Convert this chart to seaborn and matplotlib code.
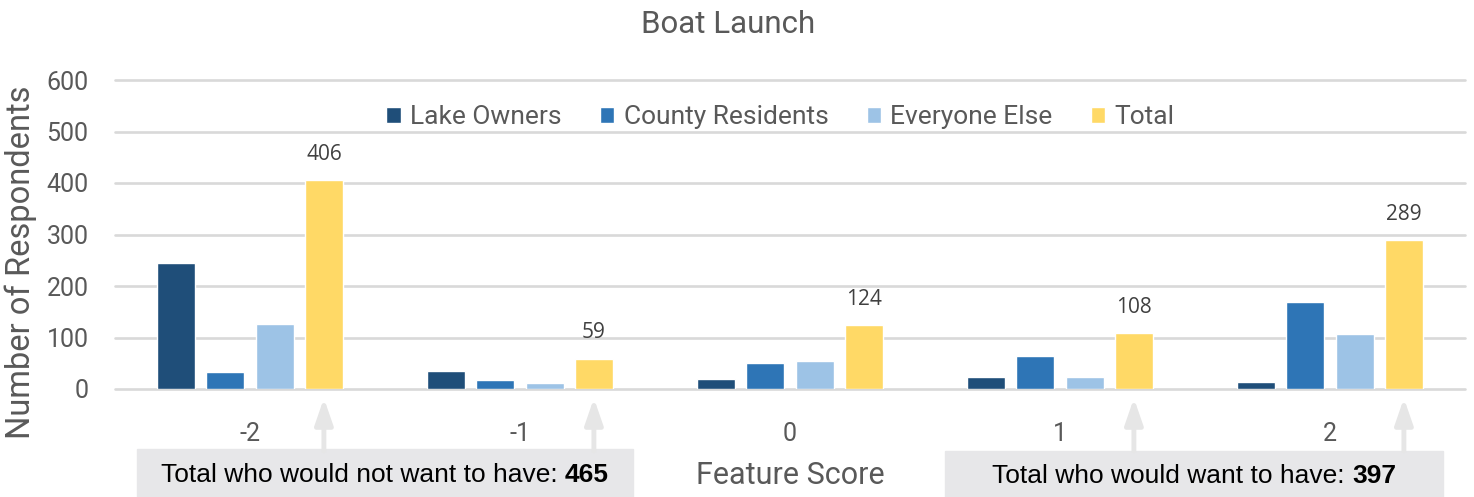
import matplotlib
matplotlib.use("Agg")
import matplotlib.pyplot as plt
from matplotlib.patches import Rectangle
import pandas as pd
import seaborn as sns

# values
scores = ["-2", "-1", "0", "1", "2"]
lake_owners = [245, 34, 19, 24, 13]
county_residents = [33, 18, 50, 65, 168]
everyone_else = [127, 12, 54, 23, 106]
total = [406, 59, 124, 108, 289]
groups = ["Lake Owners", "County Residents", "Everyone Else", "Total"]
colors = ["#1f4e79", "#2e75b6", "#9dc3e6", "#ffd966"]

df = pd.DataFrame({
    "score": scores * 4,
    "group": [g for g in groups for _ in scores],
    "count": lake_owners + county_residents + everyone_else + total,
})

sns.set_theme(style="white")
plt.rcParams["font.family"] = ["Roboto", "DejaVu Sans"]
gray = "#595959"

fig = plt.figure(figsize=(14.74, 4.97), dpi=100)
ax = fig.add_axes([115 / 1474, 108 / 497, 1350 / 1474, 309 / 497])

sns.barplot(data=df, x="score", y="count", hue="group", order=scores,
            hue_order=groups, palette=colors, width=0.73, gap=0.23,
            saturation=1, ax=ax)

ax.set_ylim(0, 600)
ax.set_yticks(range(0, 601, 100))
ax.yaxis.grid(True, color="#d9d9d9", lw=1.9)
ax.set_axisbelow(True)
for gl in ax.get_ygridlines():
    gl.set_clip_on(False)
sns.despine(ax=ax, left=True, bottom=True)
ax.tick_params(axis="y", length=0, pad=19, labelsize=18, labelcolor=gray)
ax.tick_params(axis="x", length=0, pad=24, labelsize=18, labelcolor=gray)

ax.set_xlabel("Feature Score", fontsize=22, color=gray, va="center")
ax.xaxis.set_label_coords(0.5, -0.28)
ax.set_ylabel("Number of Respondents", fontsize=23.5, color=gray)
ax.yaxis.set_label_coords(-0.058, 0.41)
fig.suptitle("Boat Launch", x=0.494, y=0.95, va="center", fontsize=22.5, color=gray)

# labels on the Total bars
total_bars = ax.containers[3]
ax.bar_label(total_bars, padding=11, fontsize=15, color="#404040",
             family=["Open Sans", "DejaVu Sans"])

leg = ax.legend(loc="center", bbox_to_anchor=(0.493, 0.88), ncol=4,
                frameon=False, fontsize=19, handlelength=0.55, handleheight=0.55,
                handletextpad=0.35, columnspacing=1.45)
for t in leg.get_texts():
    t.set_color(gray)

# arrows pointing at the Total bars of the negative and positive scores
for i in [0, 1, 3, 4]:
    bar = total_bars[i]
    xc = bar.get_x() + bar.get_width() / 2
    ax.annotate("", xy=(xc, -0.03), xycoords=("data", "axes fraction"),
                xytext=(xc, -0.2), textcoords=("data", "axes fraction"),
                arrowprops=dict(arrowstyle="-|>,head_width=0.45,head_length=1.3",
                                lw=3.5, color="#e6e6e6", shrinkA=0, shrinkB=0),
                annotation_clip=False)

neg_total = total[0] + total[1]
pos_total = total[3] + total[4]
boxes = [
    (137, 633, 449, "Total who would not want to have: ", str(neg_total)),
    (945, 1443, 451, "Total who would want to have: ", str(pos_total)),
]
fig.canvas.draw()
renderer = fig.canvas.get_renderer()
for x0, x1, ytop, label, num in boxes:
    fig.add_artist(Rectangle((x0 / 1474, 0), (x1 - x0) / 1474, (497 - ytop) / 497,
                             transform=fig.transFigure, color="#e7e7e9", zorder=0))
    yc = 1 - ((ytop + 497) / 2 + 2) / 497
    t1 = fig.text(0, yc, label, fontsize=19, color="black", va="center",
                  family="Liberation Sans")
    t2 = fig.text(0, yc, num, fontsize=19, color="black", va="center",
                  family="Liberation Sans", weight="bold")
    w1 = t1.get_window_extent(renderer).width
    w2 = t2.get_window_extent(renderer).width
    start = (x0 + x1) / 2 - (w1 + w2) / 2
    t1.set_x(start / 1474)
    t2.set_x((start + w1) / 1474)

fig.savefig("out.png", dpi=100)
